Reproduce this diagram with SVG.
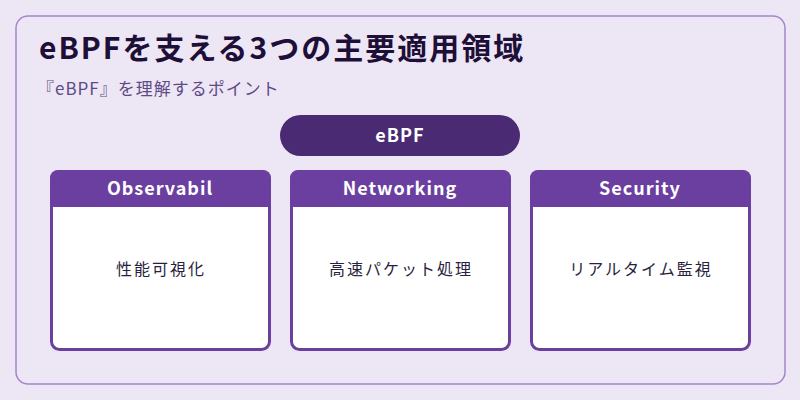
<svg xmlns="http://www.w3.org/2000/svg" width="800" height="400" viewBox="0 0 800 400">
<style>
.title{font-family:"Noto Sans CJK JP","Noto Sans",sans-serif;font-weight:700;font-size:30px;fill:#1e0f38;letter-spacing:2px}
.sub{font-family:"Noto Sans CJK JP","Noto Sans",sans-serif;font-size:17px;fill:#5e4b86;letter-spacing:1px}
.card{fill:#ffffff;stroke:#6b3fa0;stroke-width:3}
.head{fill:#6b3fa0}
.htext{font-family:"Noto Sans CJK JP","Noto Sans",sans-serif;font-weight:700;font-size:18px;fill:#ffffff;text-anchor:middle;letter-spacing:1px}
.btext{font-family:"Noto Sans CJK JP","Noto Sans",sans-serif;font-size:16px;fill:#2a1f40;text-anchor:middle;letter-spacing:2px}
</style>
<rect x="0" y="0" width="800" height="400" fill="#ede6f5"/>
<rect x="16" y="16" width="769" height="368" rx="12" fill="#ede6f5" stroke="#a584cc" stroke-width="1.5"/>
<text class="title" x="39" y="59">eBPFを支える3つの主要適用領域</text>
<text class="sub" x="37" y="95">『eBPF』を理解するポイント</text>
<g id="ebpf">
<rect x="280" y="115" width="240" height="41" rx="20.5" fill="#4a2a73"/>
<text class="htext" x="400" y="142">eBPF</text>
</g>
<g id="observability">
<rect class="card" x="51.5" y="171.5" width="218" height="178" rx="8"/>
<path class="head" d="M50 207 V178 a8 8 0 0 1 8 -8 H263 a8 8 0 0 1 8 8 V207 Z"/>
<text class="htext" x="160" y="195">Observabil</text>
<text class="btext" x="161" y="275">性能可視化</text>
</g>
<g id="networking">
<rect class="card" x="291.5" y="171.5" width="218" height="178" rx="8"/>
<path class="head" d="M290 207 V178 a8 8 0 0 1 8 -8 H503 a8 8 0 0 1 8 8 V207 Z"/>
<text class="htext" x="400" y="195">Networking</text>
<text class="btext" x="401" y="275">高速パケット処理</text>
</g>
<g id="security">
<rect class="card" x="531.5" y="171.5" width="218" height="178" rx="8"/>
<path class="head" d="M530 207 V178 a8 8 0 0 1 8 -8 H743 a8 8 0 0 1 8 8 V207 Z"/>
<text class="htext" x="640" y="195">Security</text>
<text class="btext" x="641" y="275">リアルタイム監視</text>
</g>
<g id="connectors"></g>
</svg>
